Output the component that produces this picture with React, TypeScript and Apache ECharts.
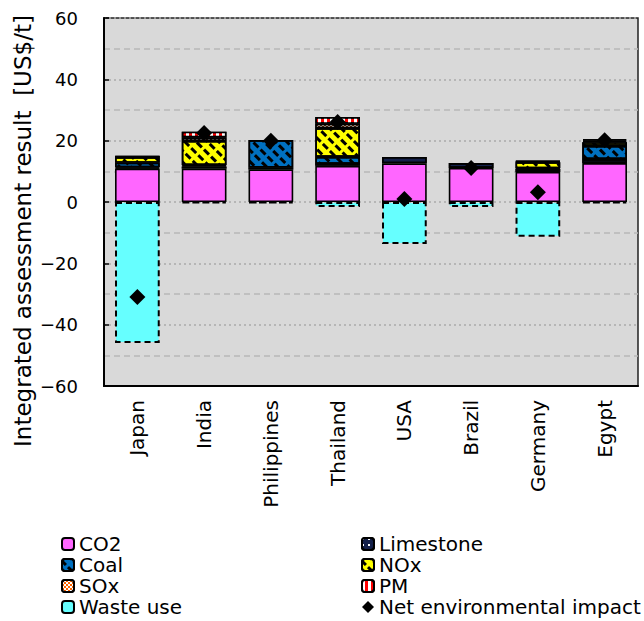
import React, { useEffect, useRef } from 'react';
import * as echarts from 'echarts';

const countries = ['Japan', 'India', 'Philippines', 'Thailand', 'USA', 'Brazil', 'Germany', 'Egypt'];
const co2 = [10.9, 10.9, 10.6, 11.8, 12.6, 11.1, 9.8, 12.7];
const limestone = [0.4, 0.7, 0.6, 0.6, 2.1, 1.6, 1.0, 1.3];
const coal = [1.5, 0.4, 9.0, 2.3, 0, 0, 0.2, 4.3];
const nox = [1.8, 7.9, 0, 9.4, 0, 0, 2.0, 1.2];
const sox = [0.2, 1.2, 0, 1.4, 0, 0, 0.2, 0.5];
const pm = [0.1, 1.8, 0, 2.2, 0, 0, 0.2, 0.5];
const wasteUse = [-46, -0.4, -0.3, -1.6, -13.7, -1.6, -11.3, -0.4];
const netImpact = [-31, 22.5, 20.0, 26.1, 1.0, 11.1, 3.2, 20.1];

const yMin = -60;
const yMax = 60;
const yInterval = 20;

const FONT = '"DejaVu Sans", sans-serif';

const nz = (arr: number[]) => arr.map((v) => (v === 0 ? null : v));

export default function App() {
  const ref = useRef<HTMLDivElement>(null);
  useEffect(() => {
    if (!ref.current) return;
    const chart = echarts.init(ref.current, null, { renderer: 'svg' });
    const border = { borderColor: '#000', borderWidth: 1.6 };
    const hatch = {
      symbol: 'rect',
      color: '#000',
      dashArrayX: [7, 3],
      dashArrayY: [3, 5],
      rotation: Math.PI / 4,
    };
    const barBase = {
      type: 'bar',
      stack: 'total',
      barWidth: '67%',
      emphasis: { disabled: true },
    };
    const legendBase = {
      orient: 'vertical',
      top: 534,
      padding: 0,
      height: 86,
      itemGap: 1,
      itemWidth: 12,
      itemHeight: 12,
      textStyle: { fontSize: 20, fontFamily: FONT, color: '#000', lineHeight: 20 },
      selectedMode: false,
    };
    chart.setOption({
      animation: false,
      grid: {
        left: 104,
        right: 6,
        top: 18,
        bottom: 235,
        show: true,
        backgroundColor: '#d9d9d9',
        borderColor: '#222',
        borderWidth: 1.5,
      },
      xAxis: {
        type: 'category',
        data: countries,
        axisLine: { onZero: false, lineStyle: { color: '#000', width: 2 } },
        axisTick: { show: false },
        axisLabel: {
          rotate: 90,
          margin: 14,
          fontSize: 20,
          fontFamily: FONT,
          color: '#000',
        },
      },
      yAxis: {
        type: 'value',
        min: yMin,
        max: yMax,
        interval: yInterval,
        axisLine: { show: true, lineStyle: { color: '#000', width: 2 } },
        axisTick: { show: true, inside: true, length: 5, lineStyle: { color: '#000', width: 1.5 } },
        axisLabel: {
          margin: 26,
          fontSize: 18,
          fontFamily: FONT,
          color: '#000',
          formatter: (v: number) => (v < 0 ? '\u2212' + Math.abs(v) : String(v)),
        },
        splitLine: { show: true, lineStyle: { color: '#aaaaaa', type: [2, 3], width: 1.5 } },
        minorTick: { show: false, splitNumber: 2 },
        minorSplitLine: { show: true, lineStyle: { color: '#b8b8b8', type: [6, 4], width: 1.5 } },
      },
      legend: [
        { ...legendBase, left: 61, data: ['CO2', 'Coal', 'SOx', 'Waste use'] },
        { ...legendBase, left: 361, data: ['Limestone', 'NOx', 'PM', 'Net environmental impact'] },
      ],
      graphic: [
        {
          type: 'text',
          x: 23,
          y: 231,
          rotation: Math.PI / 2,
          style: {
            text: 'Integrated assessment result  [US$/t]',
            fontSize: 23,
            fontFamily: FONT,
            fill: '#000',
            align: 'center',
            verticalAlign: 'middle',
          },
        },
      ],
      series: [
        { ...barBase, name: 'CO2', data: nz(co2), itemStyle: { color: '#ff66ff', ...border } },
        {
          ...barBase,
          name: 'Limestone',
          data: nz(limestone),
          itemStyle: {
            color: '#14204a',
            ...border,
            decal: { symbol: 'rect', color: '#ffffff', dashArrayX: [2, 4], dashArrayY: [2, 4] },
          },
        },
        {
          ...barBase,
          name: 'Coal',
          data: nz(coal),
          itemStyle: { color: '#0070c0', ...border, decal: hatch },
        },
        {
          ...barBase,
          name: 'NOx',
          data: nz(nox),
          itemStyle: { color: '#ffff00', ...border, decal: hatch },
        },
        {
          ...barBase,
          name: 'SOx',
          data: nz(sox),
          itemStyle: {
            color: '#ff6600',
            ...border,
            decal: { symbol: 'rect', color: '#ffffff', dashArrayX: [[2, 2], [0, 2, 2, 0]], dashArrayY: [2, 0] },
          },
        },
        {
          ...barBase,
          name: 'PM',
          data: nz(pm),
          itemStyle: {
            color: '#ff0000',
            ...border,
            decal: { symbol: 'rect', color: '#ffffff', dashArrayX: [3, 3], dashArrayY: [6, 0] },
          },
        },
        {
          ...barBase,
          name: 'Waste use',
          data: nz(wasteUse),
          itemStyle: { color: '#66ffff', borderColor: '#000', borderWidth: 2, borderType: [6, 4] },
        },
        {
          name: 'Net environmental impact',
          type: 'scatter',
          symbol: 'diamond',
          symbolSize: 16,
          data: netImpact,
          z: 10,
          itemStyle: { color: '#000', opacity: 1 },
          emphasis: { disabled: true },
        },
      ],
    });
    return () => chart.dispose();
  }, []);
  return <div ref={ref} style={{ width: 644, height: 621, position: 'absolute', left: 0, top: 0 }} />;
}
